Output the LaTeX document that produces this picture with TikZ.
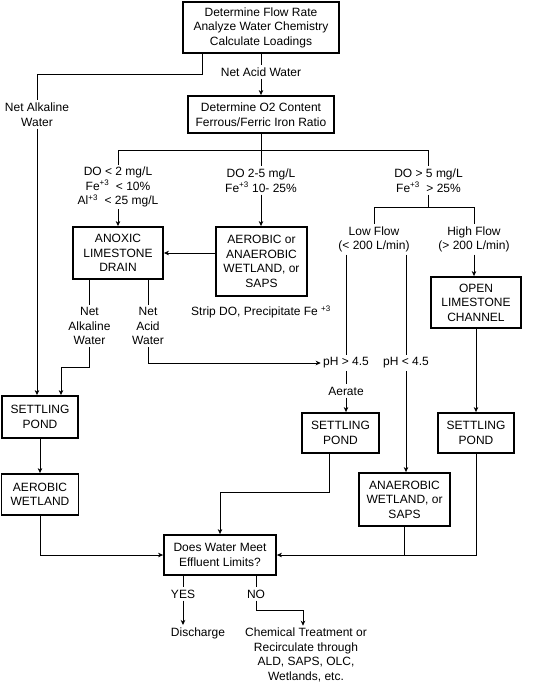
\documentclass[tikz,border=0pt]{standalone}
\usepackage{fontspec}
\setmainfont{Liberation Sans}
\usetikzlibrary{arrows.meta}

\tikzset{
  every node/.style={font=\fontsize{12}{14.5}\selectfont, align=center, inner sep=2pt},
  box/.style={draw, line width=1.8pt},
  flowarrow/.style={-{Stealth[length=5pt,width=4.5pt,inset=1.5pt]}},
}

\begin{document}
\begin{tikzpicture}[x=1pt, y=-1pt, line width=0.8pt]
\useasboundingbox (0,0) rectangle (535,685);
% boxes
\node [box, minimum width=156, minimum height=51] (flow) at (261,27.5) {Determine Flow Rate\\Analyze Water Chemistry\\Calculate Loadings};
\node [box, minimum width=146, minimum height=37] (oxy) at (261,114.5) {Determine O2 Content\\Ferrous/Ferric Iron Ratio};
\node [box, minimum width=90, minimum height=52] (ald) at (118,253) {ANOXIC\\LIMESTONE\\DRAIN};
\node [box, minimum width=91, minimum height=69] (wet) at (261.5,261.5) {AEROBIC or\\ANAEROBIC\\WETLAND, or\\SAPS};
\node [box, minimum width=90, minimum height=51] (olc) at (476,302.5) {OPEN\\LIMESTONE\\CHANNEL};
\node [box, minimum width=76, minimum height=42] (pondL) at (40,417) {SETTLING\\POND};
\node [box, minimum width=77, minimum height=40] (pondM) at (340.5,433) {SETTLING\\POND};
\node [box, minimum width=76, minimum height=40] (pondR) at (476,433) {SETTLING\\POND};
\node [box, minimum width=77, minimum height=41] (aerw) at (40,494.5) {AEROBIC\\WETLAND};
\node [box, minimum width=91, minimum height=53] (anaw) at (404.5,499.5) {ANAEROBIC\\WETLAND, or\\SAPS};
\node [box, minimum width=112, minimum height=40] (meet) at (220,555) {Does Water Meet\\Effluent Limits?};
% labels
\node (nacid) at (261,72) {Net Acid Water};
\node (nalk) at (37,114.5) {Net Alkaline\\Water};
\node (do1) at (118,187) {DO < 2 mg/L\\Fe\textsuperscript{+3} \ < 10\%\\Al\textsuperscript{+3} \ < 25 mg/L};
\node (do2) at (261,180.5) {DO 2-5 mg/L\\Fe\textsuperscript{+3} 10- 25\%};
\node (do3) at (428.5,180.5) {DO > 5 mg/L\\Fe\textsuperscript{+3} \ > 25\%};
\node (low) at (374,239.5) {Low Flow\\(< 200 L/min)};
\node (high) at (474,239.5) {High Flow\\(> 200 L/min)};
\node (strip) at (261,312) {Strip DO, Precipitate Fe \textsuperscript{+3}};
\node (nalk2) at (89.5,326) {Net\\Alkaline\\Water};
\node (nacid2) at (148,326) {Net\\Acid\\Water};
\node (phhi) at (346,363) {pH > 4.5};
\node (phlo) at (406,363) {pH < 4.5};
\node (aerate) at (346,391) {Aerate};
\node (yes) at (183,594) {YES};
\node (no) at (256,594) {NO};
\node (disch) at (198,633) {Discharge};
\node (chem) at (306,655) {Chemical Treatment or\\Recirculate through\\ALD, SAPS, OLC,\\Wetlands, etc.};
\coordinate (j1) at (202,74);
\coordinate (br) at (261,150);
\coordinate (br2) at (428.5,207);
\coordinate (j2) at (61,367);
\coordinate (j3) at (329,492);
\coordinate (j4) at (303,610);
% connectors
\draw (flow.south -| j1) -- (j1) -| (nalk.north);
\draw [flowarrow] (nalk) -- (nalk |- pondL.north);
\draw (flow) -- (nacid);
\draw [flowarrow] (nacid) -- (oxy);
\draw (oxy) -- (br);
\draw (do1.north |- br) -- (do3.north |- br);
\draw (do1.north |- br) -- (do1);
\draw (br) -- (do2);
\draw (do3.north |- br) -- (do3);
\draw [flowarrow] (do1) -- (ald);
\draw [flowarrow] (do2) -- (do2 |- wet.north);
\draw [flowarrow] (wet.west |- ald.east) -- (ald.east);
\draw (do3) -- (br2);
\draw (low |- br2) -- (high |- br2);
\draw (low |- br2) -- (low);
\draw (high |- br2) -- (high);
\draw [flowarrow] (high) -- (high |- olc.north);
\draw [flowarrow] (olc) -- (pondR);
\draw (phhi |- low.south) -- (phhi);
\draw (phlo |- low.south) -- (phlo);
\draw (phhi) -- (aerate);
\draw [flowarrow] (aerate) -- (aerate |- pondM.north);
\draw [flowarrow] (phlo) -- (phlo |- anaw.north);
\draw (ald.south -| nalk2) -- (nalk2);
\draw [flowarrow] (nalk2) |- (j2) -- (j2 |- pondL.north);
\draw (ald.south -| nacid2) -- (nacid2);
\draw [flowarrow] (nacid2) |- (phhi);
\draw [flowarrow] (pondL) -- (aerw);
\draw [flowarrow] (aerw) |- (meet);
\draw [flowarrow] (pondM.south -| j3) -- (j3) -| (meet.north);
\draw [flowarrow] (pondR) |- (meet.east);
\draw (anaw.south) -- (anaw.south |- meet.east);
\draw (meet.south -| yes) -- (yes);
\draw [flowarrow] (yes) -- (yes |- disch.north);
\draw (meet.south -| no) -- (no);
\draw [flowarrow] (no) |- (j4) -- (j4 |- chem.north);
\end{tikzpicture}
\end{document}
